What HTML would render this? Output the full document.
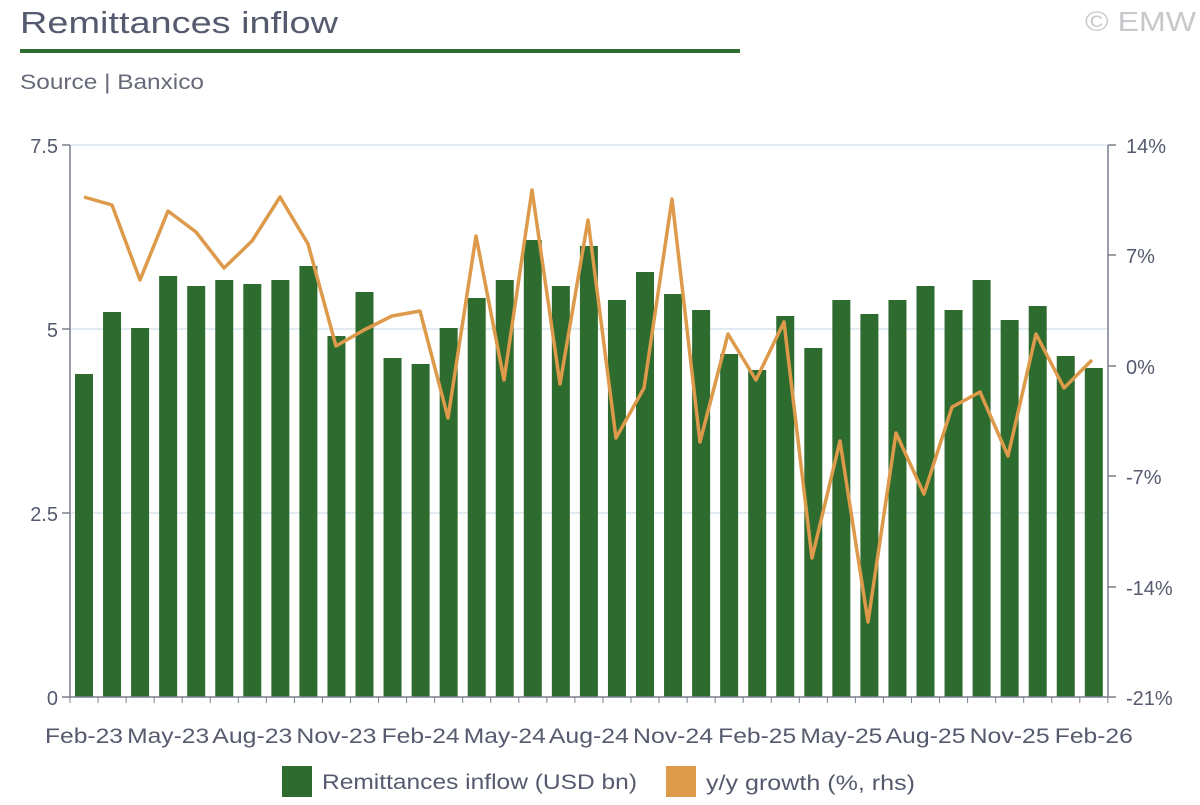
<!DOCTYPE html>
<html><head><meta charset="utf-8"><style>
html,body{margin:0;padding:0;background:#fff;}
svg text{font-family:"Liberation Sans",sans-serif;}
</style></head><body>
<svg width="1200" height="800" viewBox="0 0 1200 800" xmlns="http://www.w3.org/2000/svg">
<text x="20" y="33" font-size="31" fill="#555a6e" textLength="318" lengthAdjust="spacingAndGlyphs">Remittances inflow</text>
<text x="1085" y="31" font-size="28" fill="#c8c8cc" textLength="111" lengthAdjust="spacingAndGlyphs">© EMW</text>
<rect x="20" y="49" width="720" height="4" fill="#2e6b2e"/>
<text x="20" y="89" font-size="21" fill="#666a78" textLength="184" lengthAdjust="spacingAndGlyphs">Source | Banxico</text>
<g stroke="#d8e4ee" stroke-width="1.5">
<line x1="70" y1="145" x2="1108" y2="145"/>
<line x1="70" y1="329" x2="1108" y2="329"/>
<line x1="70" y1="513" x2="1108" y2="513"/>
</g>
<g fill="#2e6b2e">
<rect x="75" y="374" width="18" height="323"/>
<rect x="103.05" y="312" width="18" height="385"/>
<rect x="131.1" y="328" width="18" height="369"/>
<rect x="159.15" y="276" width="18" height="421"/>
<rect x="187.2" y="286" width="18" height="411"/>
<rect x="215.25" y="280" width="18" height="417"/>
<rect x="243.3" y="284" width="18" height="413"/>
<rect x="271.35" y="280" width="18" height="417"/>
<rect x="299.4" y="266" width="18" height="431"/>
<rect x="327.45" y="336" width="18" height="361"/>
<rect x="355.5" y="292" width="18" height="405"/>
<rect x="383.55" y="358" width="18" height="339"/>
<rect x="411.6" y="364" width="18" height="333"/>
<rect x="439.65" y="328" width="18" height="369"/>
<rect x="467.7" y="298" width="18" height="399"/>
<rect x="495.75" y="280" width="18" height="417"/>
<rect x="523.8" y="240" width="18" height="457"/>
<rect x="551.85" y="286" width="18" height="411"/>
<rect x="579.9" y="246" width="18" height="451"/>
<rect x="607.95" y="300" width="18" height="397"/>
<rect x="636" y="272" width="18" height="425"/>
<rect x="664.05" y="294" width="18" height="403"/>
<rect x="692.1" y="310" width="18" height="387"/>
<rect x="720.15" y="354" width="18" height="343"/>
<rect x="748.2" y="370" width="18" height="327"/>
<rect x="776.25" y="316" width="18" height="381"/>
<rect x="804.3" y="348" width="18" height="349"/>
<rect x="832.35" y="300" width="18" height="397"/>
<rect x="860.4" y="314" width="18" height="383"/>
<rect x="888.45" y="300" width="18" height="397"/>
<rect x="916.5" y="286" width="18" height="411"/>
<rect x="944.55" y="310" width="18" height="387"/>
<rect x="972.6" y="280" width="18" height="417"/>
<rect x="1000.65" y="320" width="18" height="377"/>
<rect x="1028.7" y="306" width="18" height="391"/>
<rect x="1056.75" y="356" width="18" height="341"/>
<rect x="1084.8" y="368" width="18" height="329"/>
</g>
<g stroke="#7a7f8e" stroke-width="1.5" fill="none">
<line x1="70" y1="145" x2="70" y2="697"/>
<line x1="70" y1="697" x2="1108" y2="697"/>
<line x1="1108" y1="145" x2="1108" y2="697"/>
<line x1="62" y1="145" x2="70" y2="145"/><line x1="62" y1="329" x2="70" y2="329"/><line x1="62" y1="513" x2="70" y2="513"/><line x1="62" y1="697" x2="70" y2="697"/>
<line x1="1108" y1="145" x2="1116" y2="145"/><line x1="1108" y1="255" x2="1116" y2="255"/><line x1="1108" y1="366" x2="1116" y2="366"/><line x1="1108" y1="476" x2="1116" y2="476"/><line x1="1108" y1="587" x2="1116" y2="587"/><line x1="1108" y1="697" x2="1116" y2="697"/>
</g>
<line x1="69.5" y1="700" x2="1109" y2="700" stroke="#7a7f8e" stroke-width="6" stroke-dasharray="1 27.05"/>
<g font-size="20" fill="#555a6e">
<text x="58" y="153" text-anchor="end">7.5</text>
<text x="58" y="337" text-anchor="end">5</text>
<text x="58" y="521" text-anchor="end">2.5</text>
<text x="58" y="705" text-anchor="end">0</text>
<text x="1126" y="153">14%</text>
<text x="1126" y="263">7%</text>
<text x="1126" y="374">0%</text>
<text x="1126" y="484">-7%</text>
<text x="1126" y="595">-14%</text>
<text x="1126" y="705">-21%</text>
</g>
<g font-size="21" fill="#555a6e" text-anchor="middle">
<text x="84" y="743" textLength="78" lengthAdjust="spacingAndGlyphs">Feb-23</text>
<text x="168.15" y="743" textLength="82" lengthAdjust="spacingAndGlyphs">May-23</text>
<text x="252.3" y="743" textLength="80" lengthAdjust="spacingAndGlyphs">Aug-23</text>
<text x="336.45" y="743" textLength="80" lengthAdjust="spacingAndGlyphs">Nov-23</text>
<text x="420.6" y="743" textLength="78" lengthAdjust="spacingAndGlyphs">Feb-24</text>
<text x="504.75" y="743" textLength="82" lengthAdjust="spacingAndGlyphs">May-24</text>
<text x="588.9" y="743" textLength="80" lengthAdjust="spacingAndGlyphs">Aug-24</text>
<text x="673.05" y="743" textLength="80" lengthAdjust="spacingAndGlyphs">Nov-24</text>
<text x="757.2" y="743" textLength="78" lengthAdjust="spacingAndGlyphs">Feb-25</text>
<text x="841.35" y="743" textLength="82" lengthAdjust="spacingAndGlyphs">May-25</text>
<text x="925.5" y="743" textLength="80" lengthAdjust="spacingAndGlyphs">Aug-25</text>
<text x="1009.65" y="743" textLength="80" lengthAdjust="spacingAndGlyphs">Nov-25</text>
<text x="1093.8" y="743" textLength="78" lengthAdjust="spacingAndGlyphs">Feb-26</text>
</g>
<polyline fill="none" stroke="#dc9a4a" stroke-width="3.5" stroke-linejoin="round" points="84,197 112,205 140,280 168,211 196,232 224,268 252,241 280,197 308,244 336,346 364,330 392,316 420,311 448,418 476,236 504,380 532,190 560,384 588,220 616,438 644,388 672,199 700,442 728,334 756,380 784,322 812,558 840,441 868,622 896,433 924,494 952,407 980,392 1008,456 1036,334 1064,388 1092,360"/>
<rect x="282" y="766" width="30" height="31" fill="#2e6b2e"/>
<text x="322" y="789" font-size="21" fill="#555a6e" textLength="315" lengthAdjust="spacingAndGlyphs">Remittances inflow (USD bn)</text>
<rect x="666" y="766" width="30" height="31" fill="#dc9a4a"/>
<text x="706" y="790" font-size="21" fill="#555a6e" textLength="209" lengthAdjust="spacingAndGlyphs">y/y growth (%, rhs)</text>
</svg>
</body></html>
